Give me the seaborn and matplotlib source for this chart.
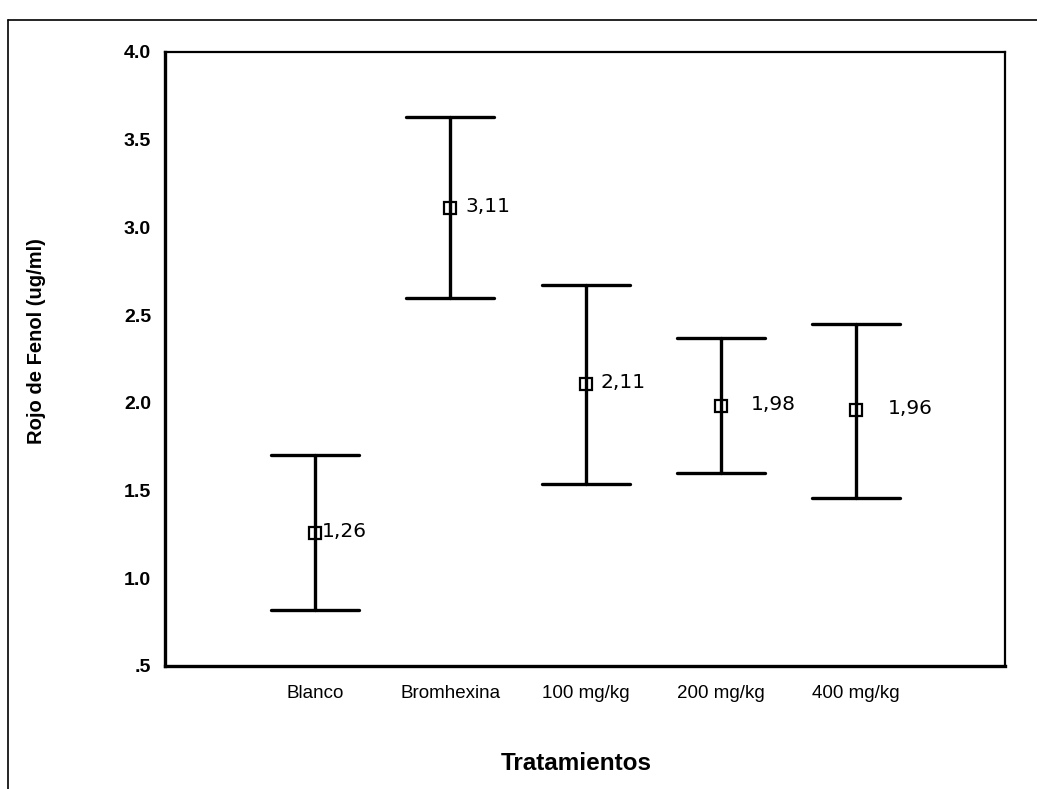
import matplotlib
matplotlib.use("Agg")
import matplotlib.pyplot as plt
from matplotlib.lines import Line2D
import seaborn as sns
import pandas as pd

categories = ["Blanco", "Bromhexina", "100 mg/kg", "200 mg/kg", "400 mg/kg"]
means = [1.26, 3.11, 2.11, 1.98, 1.96]
lower = [0.82, 2.60, 1.54, 1.60, 1.46]
upper = [1.70, 3.63, 2.67, 2.37, 2.45]
ytick_values = [0.5, 1.0, 1.5, 2.0, 2.5, 3.0, 3.5, 4.0]
ytick_labels = [".5", "1.0", "1.5", "2.0", "2.5", "3.0", "3.5", "4.0"]
value_labels = ["1,26", "3,11", "2,11", "1,98", "1,96"]
label_offsets_px = [7, 15, 15, 30, 32]

sns.set_style("white")
plt.rcParams["font.family"] = ["Liberation Sans", "DejaVu Sans"]
plt.rcParams["text.color"] = "black"
plt.rcParams["axes.labelcolor"] = "black"
plt.rcParams["xtick.color"] = "black"
plt.rcParams["ytick.color"] = "black"

rows = []
for c, lo, m, hi in zip(categories, lower, means, upper):
    for v in (lo, m, hi):
        rows.append({"Tratamientos": c, "valor": v})
df = pd.DataFrame(rows)

fig = plt.figure(figsize=(10.37, 7.89), dpi=100)
ax = fig.add_axes([165 / 1037, 1 - 666 / 789, 840 / 1037, 614 / 789])

sns.pointplot(
    data=df, x="Tratamientos", y="valor", order=categories,
    estimator="median", errorbar=("pi", 100),
    color="black", linestyle="none", marker="s", markersize=8.5,
    markerfacecolor="none", markeredgewidth=1.6,
    capsize=0.65, err_kws={"linewidth": 2.4}, ax=ax,
)

for i, (m, lab, off) in enumerate(zip(means, value_labels, label_offsets_px)):
    ax.annotate(lab, xy=(i, m), xytext=(off * 0.72, 1), textcoords="offset points",
                ha="left", va="center", fontsize=14.5, color="black",
                family=["DejaVu Sans"])

ax.set_xlim(-1.11, 5.1)
ax.set_ylim(0.5, 4.0)
ax.set_yticks(ytick_values)
ax.set_yticklabels(ytick_labels, fontweight="bold", fontsize=14)
ax.set_xticks(range(len(categories)))
ax.set_xticklabels(categories, fontsize=13.5)
ax.tick_params(axis="both", direction="out", length=4, width=1.8, color="black", pad=6)
ax.tick_params(axis="x", pad=10)

for side in ["left", "bottom"]:
    ax.spines[side].set_linewidth(2.4)
for side in ["top", "right"]:
    ax.spines[side].set_linewidth(1.6)
for s in ax.spines.values():
    s.set_color("black")

ax.set_xlabel("Tratamientos", fontsize=17.5, fontweight="bold")
ax.xaxis.set_label_coords(0.49, -0.14)
ax.set_ylabel("Rojo de Fenol (ug/ml)", fontsize=14.5, fontweight="bold")
ax.yaxis.set_label_coords(-0.142, 0.53)

fig.add_artist(Line2D([8 / 1037, 8 / 1037], [0, 1 - 20 / 789], transform=fig.transFigure,
                      color="black", linewidth=1.2))
fig.add_artist(Line2D([8 / 1037, 1], [1 - 20 / 789, 1 - 20 / 789], transform=fig.transFigure,
                      color="black", linewidth=1.2))

fig.savefig("out.png", dpi=100)
